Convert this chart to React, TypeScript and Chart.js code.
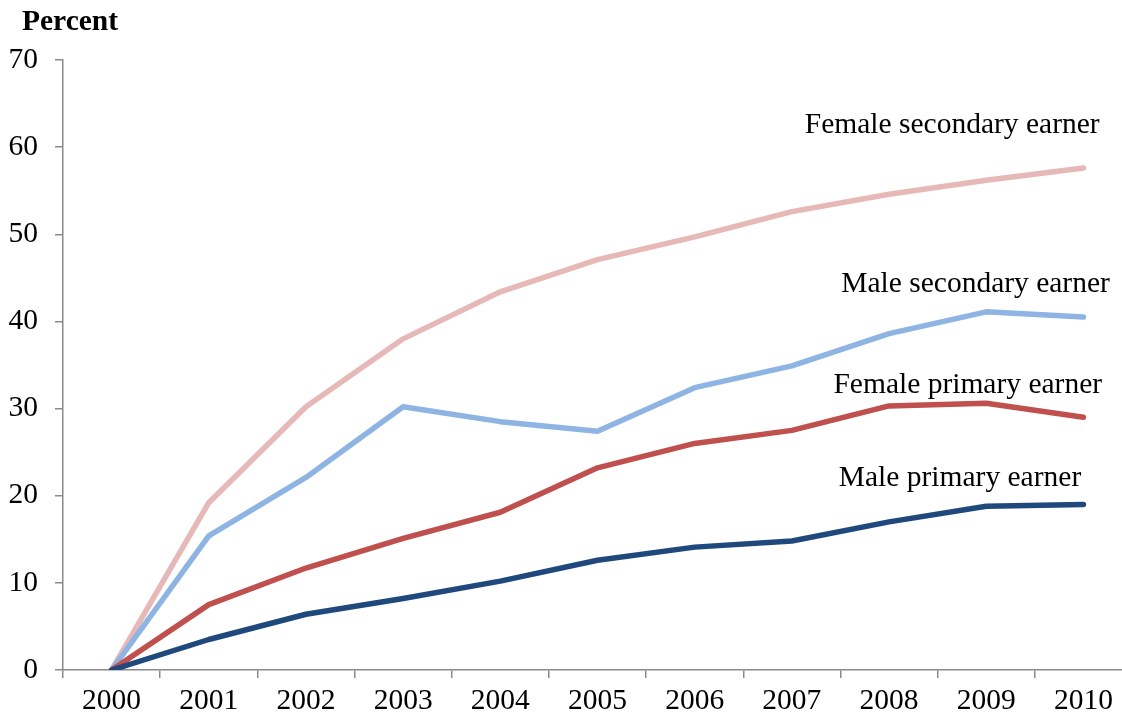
import React, { useEffect, useRef } from 'react';
import { Chart, registerables } from 'chart.js';

Chart.register(...registerables);

const years = ['2000', '2001', '2002', '2003', '2004', '2005', '2006', '2007', '2008', '2009', '2010'];
const malePrimary = [0, 3.5, 6.4, 8.2, 10.2, 12.6, 14.1, 14.8, 17.0, 18.8, 19.0];
const femalePrimary = [0, 7.5, 11.7, 15.1, 18.1, 23.2, 26.0, 27.5, 30.3, 30.6, 29.0];
const maleSecondary = [0, 15.4, 22.1, 30.2, 28.5, 27.4, 32.4, 34.9, 38.6, 41.1, 40.5];
const femaleSecondary = [0, 19.2, 30.2, 38.0, 43.4, 47.1, 49.7, 52.6, 54.6, 56.2, 57.6];
const seriesNames = ['Male primary earner', 'Female primary earner', 'Male secondary earner', 'Female secondary earner'];
const seriesColors = ['#1F497D', '#C0504D', '#8EB4E3', '#E6B9B8'];
const yMin = 0;
const yMax = 70;
const yStep = 10;
const yTitle = 'Percent';

// label anchors: x as category index (center), y as data value (baseline)
const labelAnchors = [
  { x: 8.73, y: 21.1 },
  { x: 8.81, y: 31.8 },
  { x: 8.89, y: 43.4 },
  { x: 8.65, y: 61.6 },
];

const FONT = '"Liberation Serif", "Times New Roman", serif';
const AXIS_COLOR = '#8a8a8a';
const FS = 29.5;

const labelPlugin = {
  id: 'seriesLabels',
  afterDraw(chart: any) {
    const { ctx, scales } = chart;
    ctx.save();
    ctx.fillStyle = '#000';
    ctx.textBaseline = 'alphabetic';
    ctx.font = `${FS}px ${FONT}`;
    ctx.textAlign = 'center';
    seriesNames.forEach((name, i) => {
      const a = labelAnchors[i];
      ctx.fillText(name, scales.x.getPixelForValue(a.x), scales.y.getPixelForValue(a.y));
    });
    ctx.font = `bold ${FS}px ${FONT}`;
    ctx.textAlign = 'left';
    ctx.fillText(yTitle, 22, 30);
    ctx.restore();
  },
};

export default function App() {
  const ref = useRef<HTMLCanvasElement>(null);
  useEffect(() => {
    const all = [malePrimary, femalePrimary, maleSecondary, femaleSecondary];
    const chart = new Chart(ref.current as HTMLCanvasElement, {
      type: 'line',
      data: {
        labels: years,
        datasets: all.map((d, i) => ({
          label: seriesNames[i],
          data: d,
          borderColor: seriesColors[i],
          backgroundColor: seriesColors[i],
          borderWidth: 5.5,
          pointRadius: 0,
          borderCapStyle: 'round',
          borderJoinStyle: 'round',
          tension: 0,
          fill: false,
        })),
      },
      options: {
        responsive: false,
        animation: false,
        devicePixelRatio: 1,
        layout: { padding: { top: 60, left: 0, right: 8, bottom: 0 } },
        plugins: { legend: { display: false }, tooltip: { enabled: false }, title: { display: false } },
        scales: {
          x: {
            type: 'category',
            offset: true,
            grid: { display: true, drawOnChartArea: false, drawTicks: true, tickLength: 8, color: AXIS_COLOR, lineWidth: 1.5, offset: true },
            border: { display: true, color: AXIS_COLOR, width: 1.5 },
            ticks: { color: '#000', font: { family: FONT, size: FS }, padding: 6, maxRotation: 0, autoSkip: false },
            afterFit: (s: any) => { s.height = 54; },
          },
          y: {
            min: yMin,
            max: yMax,
            grid: { display: true, drawOnChartArea: false, drawTicks: true, tickLength: 8, color: AXIS_COLOR, lineWidth: 1.5 },
            border: { display: true, color: AXIS_COLOR, width: 1.5 },
            ticks: { stepSize: yStep, color: '#000', font: { family: FONT, size: FS }, padding: 17 },
            afterFit: (s: any) => { s.width = 63; },
          },
        },
      },
      plugins: [labelPlugin],
    });
    return () => chart.destroy();
  }, []);
  return (
    <div style={{ position: 'absolute', left: 0, top: 0, width: 1122, height: 724, overflow: 'hidden', background: '#fff' }}>
      <canvas ref={ref} width={1140} height={724} style={{ display: 'block' }} />
    </div>
  );
}
